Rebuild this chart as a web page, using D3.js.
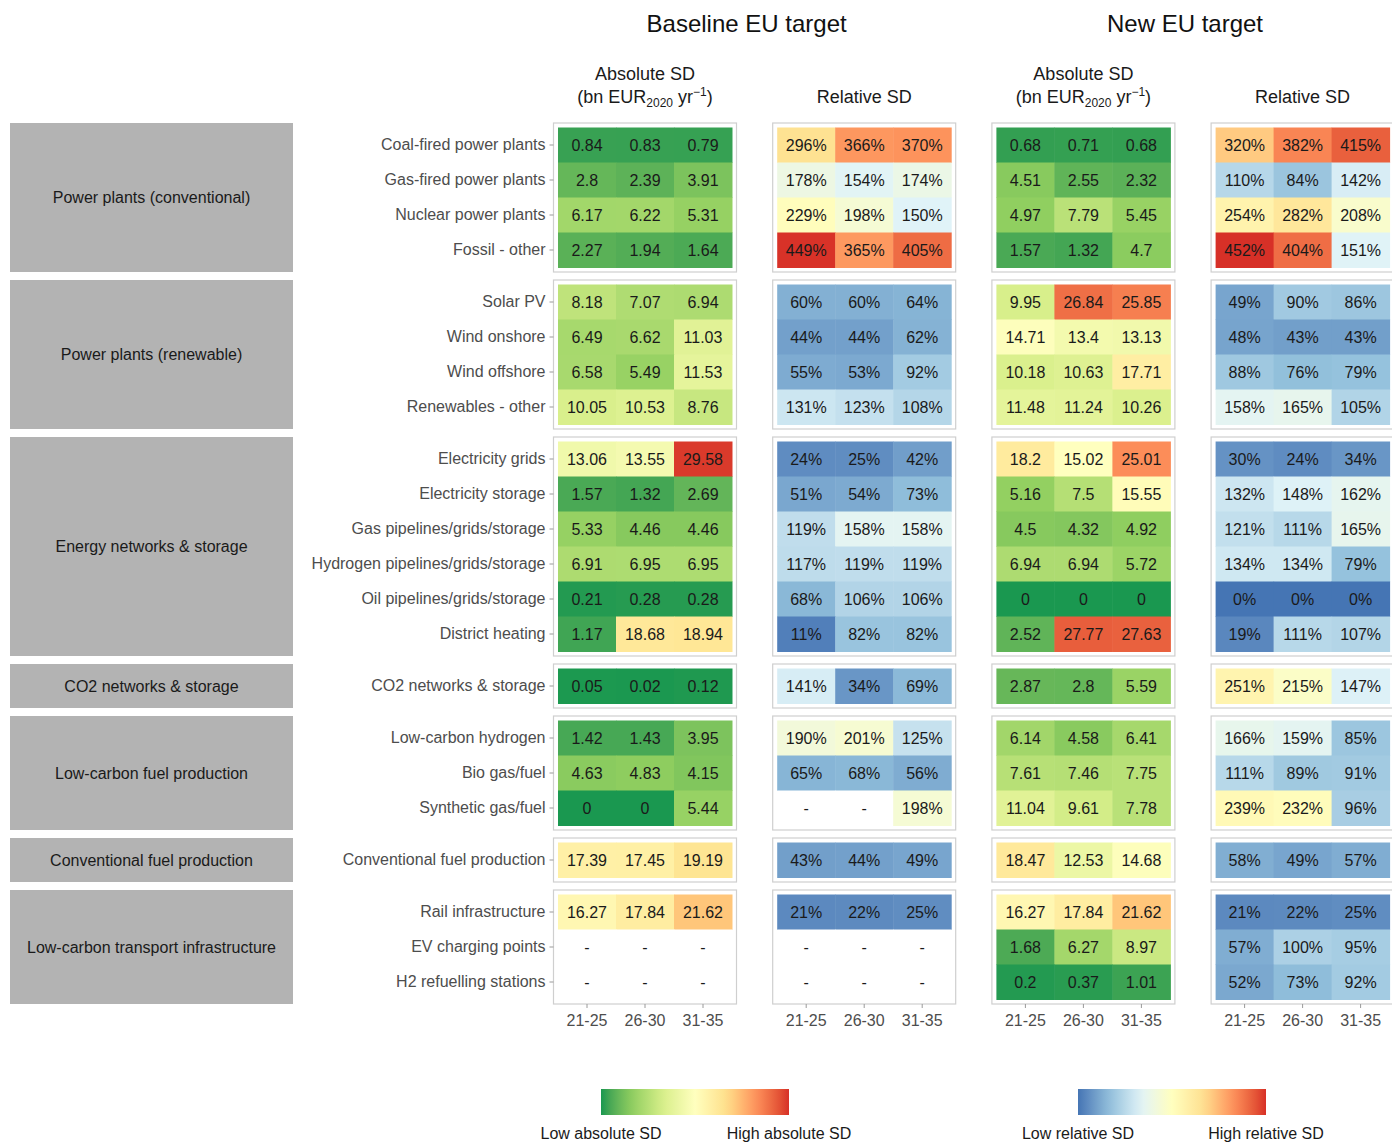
<!DOCTYPE html>
<html>
<head>
<meta charset="utf-8">
<script src="https://cdn.jsdelivr.net/npm/d3@7"></script>
<style>
  html, body { margin: 0; padding: 0; background: #fff; }
  svg { display: block; font-family: "Liberation Sans", Arial, sans-serif; }
</style>
</head>
<body>
<svg id="chart" width="1392" height="1144"></svg>
<script>
// ---- data -------------------------------------------------------------
const periods = ["21-25", "26-30", "31-35"];

const groupNames = [
  "Power plants (conventional)",
  "Power plants (renewable)",
  "Energy networks & storage",
  "CO2 networks & storage",
  "Low-carbon fuel production",
  "Conventional fuel production",
  "Low-carbon transport infrastructure"
];

const groupRows = [
  ["Coal-fired power plants", "Gas-fired power plants", "Nuclear power plants", "Fossil - other"],
  ["Solar PV", "Wind onshore", "Wind offshore", "Renewables - other"],
  ["Electricity grids", "Electricity storage", "Gas pipelines/grids/storage",
   "Hydrogen pipelines/grids/storage", "Oil pipelines/grids/storage", "District heating"],
  ["CO2 networks & storage"],
  ["Low-carbon hydrogen", "Bio gas/fuel", "Synthetic gas/fuel"],
  ["Conventional fuel production"],
  ["Rail infrastructure", "EV charging points", "H2 refuelling stations"]
];

// Absolute SD, bn EUR2020 per year (rows in the order of groupRows, columns = periods)
const baselineAbsolute = [
  [0.84, 0.83, 0.79], [2.8, 2.39, 3.91], [6.17, 6.22, 5.31], [2.27, 1.94, 1.64],
  [8.18, 7.07, 6.94], [6.49, 6.62, 11.03], [6.58, 5.49, 11.53], [10.05, 10.53, 8.76],
  [13.06, 13.55, 29.58], [1.57, 1.32, 2.69], [5.33, 4.46, 4.46], [6.91, 6.95, 6.95],
  [0.21, 0.28, 0.28], [1.17, 18.68, 18.94],
  [0.05, 0.02, 0.12],
  [1.42, 1.43, 3.95], [4.63, 4.83, 4.15], [0, 0, 5.44],
  [17.39, 17.45, 19.19],
  [16.27, 17.84, 21.62], [null, null, null], [null, null, null]
];

// Relative SD, percent
const baselineRelative = [
  [296, 366, 370], [178, 154, 174], [229, 198, 150], [449, 365, 405],
  [60, 60, 64], [44, 44, 62], [55, 53, 92], [131, 123, 108],
  [24, 25, 42], [51, 54, 73], [119, 158, 158], [117, 119, 119],
  [68, 106, 106], [11, 82, 82],
  [141, 34, 69],
  [190, 201, 125], [65, 68, 56], [null, null, 198],
  [43, 44, 49],
  [21, 22, 25], [null, null, null], [null, null, null]
];

const newAbsolute = [
  [0.68, 0.71, 0.68], [4.51, 2.55, 2.32], [4.97, 7.79, 5.45], [1.57, 1.32, 4.7],
  [9.95, 26.84, 25.85], [14.71, 13.4, 13.13], [10.18, 10.63, 17.71], [11.48, 11.24, 10.26],
  [18.2, 15.02, 25.01], [5.16, 7.5, 15.55], [4.5, 4.32, 4.92], [6.94, 6.94, 5.72],
  [0, 0, 0], [2.52, 27.77, 27.63],
  [2.87, 2.8, 5.59],
  [6.14, 4.58, 6.41], [7.61, 7.46, 7.75], [11.04, 9.61, 7.78],
  [18.47, 12.53, 14.68],
  [16.27, 17.84, 21.62], [1.68, 6.27, 8.97], [0.2, 0.37, 1.01]
];

const newRelative = [
  [320, 382, 415], [110, 84, 142], [254, 282, 208], [452, 404, 151],
  [49, 90, 86], [48, 43, 43], [88, 76, 79], [158, 165, 105],
  [30, 24, 34], [132, 148, 162], [121, 111, 165], [134, 134, 79],
  [0, 0, 0], [19, 111, 107],
  [251, 215, 147],
  [166, 159, 85], [111, 89, 91], [239, 232, 96],
  [58, 49, 57],
  [21, 22, 25], [57, 100, 95], [52, 73, 92]
];

const scenarioTitles = ["Baseline EU target", "New EU target"];
const legendLabels = [["Low absolute SD", "High absolute SD"], ["Low relative SD", "High relative SD"]];

// ---- colour scales ----------------------------------------------------
const absColors = ["#1a9850", "#91cf60", "#d9ef8b", "#ffffbf", "#fee08b", "#fc8d59", "#d73027"];
const relColors = ["#4575b4", "#91bfdb", "#e0f3f8", "#ffffbf", "#fee090", "#fc8d59", "#d73027"];
const absMax = 30, relMax = 450;
const absScale = d3.scaleLinear()
  .domain(absColors.map((_, i) => i * absMax / (absColors.length - 1)))
  .range(absColors).interpolate(d3.interpolateLab).clamp(true);
const relScale = d3.scaleLinear()
  .domain(relColors.map((_, i) => i * relMax / (relColors.length - 1)))
  .range(relColors).interpolate(d3.interpolateLab).clamp(true);

// ---- layout -----------------------------------------------------------
const svg = d3.select("#chart");
const rowH = 35, pad = 4.5, gap = 8, topY = 123;
const cellW = 58, panelStep = 219.2, firstX = 558;
const textCol = "#1a1a1a", axisCol = "#4d4d4d";

const panels = [
  { data: baselineAbsolute, scale: absScale, fmt: v => String(v) },
  { data: baselineRelative, scale: relScale, fmt: v => v + "%" },
  { data: newAbsolute, scale: absScale, fmt: v => String(v) },
  { data: newRelative, scale: relScale, fmt: v => v + "%" }
];

// vertical band scale per group
let yCursor = topY, rowIndex = 0;
const groups = groupRows.map((rows, gi) => {
  const y0 = yCursor;
  const h = rows.length * rowH + 2 * pad;
  const y = d3.scaleBand().domain(rows).range([y0 + pad, y0 + pad + rows.length * rowH]);
  const g = { name: groupNames[gi], rows, y, y0, y1: y0 + h, start: rowIndex };
  rowIndex += rows.length;
  yCursor += h + gap;
  return g;
});
const bottomY = groups[groups.length - 1].y1;

// group strips on the left
groups.forEach(g => {
  svg.append("rect")
    .attr("x", 10).attr("y", g.y0).attr("width", 283).attr("height", g.y1 - g.y0)
    .attr("fill", "#b3b3b3");
  svg.append("text")
    .attr("x", 151.5).attr("y", (g.y0 + g.y1) / 2).attr("dy", "0.35em")
    .attr("text-anchor", "middle").attr("font-size", 16).attr("fill", textCol)
    .text(g.name);
});

// panels
panels.forEach((p, pi) => {
  const x0 = firstX + pi * panelStep;
  const x = d3.scaleBand().domain(periods).range([x0, x0 + cellW * periods.length]);
  const pg = svg.append("g");

  groups.forEach(g => {
    pg.append("rect")
      .attr("x", x0 - pad).attr("y", g.y0)
      .attr("width", x.range()[1] - x0 + 2 * pad).attr("height", g.y1 - g.y0)
      .attr("fill", "#fff").attr("stroke", "#cfcfcf").attr("stroke-width", 1.2);

    const cells = [];
    g.rows.forEach((r, ri) => {
      p.data[g.start + ri].forEach((v, ci) => cells.push({ row: r, period: periods[ci], v }));
    });
    const cg = pg.selectAll(null).data(cells).join("g");
    cg.append("rect")
      .attr("x", d => x(d.period)).attr("y", d => g.y(d.row))
      .attr("width", x.bandwidth() + 0.5).attr("height", g.y.bandwidth() + 0.5)
      .attr("fill", d => d.v == null ? "#fff" : p.scale(d.v));
    cg.append("text")
      .attr("x", d => x(d.period) + x.bandwidth() / 2)
      .attr("y", d => g.y(d.row) + g.y.bandwidth() / 2)
      .attr("dy", "0.35em").attr("text-anchor", "middle")
      .attr("font-size", 16).attr("fill", textCol)
      .text(d => d.v == null ? "-" : p.fmt(d.v));

    // row labels on the first panel only
    if (pi === 0) {
      const axis = d3.axisLeft(g.y).tickSize(4).tickPadding(4);
      const ag = svg.append("g").attr("transform", `translate(${x0 - pad},0)`).call(axis);
      ag.select(".domain").remove();
      ag.selectAll(".tick line").attr("stroke", "#9a9a9a");
      ag.selectAll(".tick text").attr("font-size", 16).attr("fill", axisCol)
        .attr("font-family", "Liberation Sans, Arial, sans-serif");
    }
  });

  // period axis under each panel
  const xa = svg.append("g").attr("transform", `translate(0,${bottomY})`)
    .call(d3.axisBottom(x).tickSize(4).tickPadding(7));
  xa.select(".domain").remove();
  xa.selectAll(".tick line").attr("stroke", "#9a9a9a");
  xa.selectAll(".tick text").attr("font-size", 16).attr("fill", axisCol)
    .attr("font-family", "Liberation Sans, Arial, sans-serif");

  // panel headers
  const cx = x0 + cellW * periods.length / 2;
  if (pi % 2 === 0) {
    svg.append("text").attr("x", cx).attr("y", 80).attr("text-anchor", "middle")
      .attr("font-size", 18).attr("fill", textCol).text("Absolute SD");
    const t = svg.append("text").attr("x", cx).attr("y", 103).attr("text-anchor", "middle")
      .attr("font-size", 18).attr("fill", textCol);
    t.append("tspan").text("(bn EUR");
    t.append("tspan").attr("font-size", 12).attr("dy", 4).text("2020");
    t.append("tspan").attr("dy", -4).text(" yr");
    t.append("tspan").attr("font-size", 12).attr("dy", -7).text("\u22121");
    t.append("tspan").attr("dy", 7).text(")");
  } else {
    svg.append("text").attr("x", cx).attr("y", 103).attr("text-anchor", "middle")
      .attr("font-size", 18).attr("fill", textCol).text("Relative SD");
  }
});

// scenario titles
scenarioTitles.forEach((s, i) => {
  const left = firstX + 2 * i * panelStep;
  const right = firstX + (2 * i + 1) * panelStep + cellW * periods.length;
  svg.append("text").attr("x", (left + right) / 2 - 8).attr("y", 32)
    .attr("text-anchor", "middle").attr("font-size", 24).attr("fill", "#111")
    .text(s);
});

// colour legends
const defs = svg.append("defs");
[[absScale, absMax, 601], [relScale, relMax, 1078]].forEach(([sc, mx, lx], i) => {
  const id = "legend-grad-" + i;
  const grad = defs.append("linearGradient").attr("id", id);
  d3.range(0, 1.0001, 0.05).forEach(t => {
    grad.append("stop").attr("offset", t).attr("stop-color", sc(t * mx));
  });
  const w = 188;
  svg.append("rect").attr("x", lx).attr("y", 1089).attr("width", w).attr("height", 26)
    .attr("fill", `url(#${id})`);
  legendLabels[i].forEach((lab, j) => {
    svg.append("text").attr("x", lx + j * w).attr("y", 1139)
      .attr("text-anchor", "middle").attr("font-size", 16).attr("fill", textCol)
      .text(lab);
  });
});
</script>
</body>
</html>
